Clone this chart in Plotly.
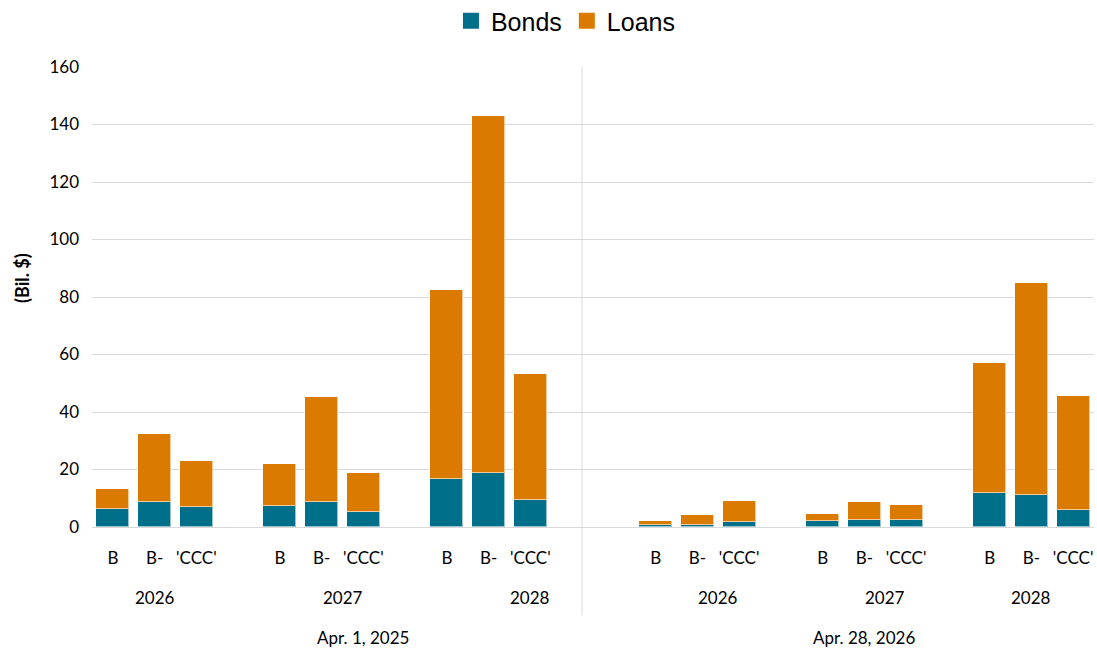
import plotly.graph_objects as go

# Rating buckets for each maturity year, under two snapshot dates
snapshots = ["Apr. 1, 2025", "Apr. 28, 2026"]
years = ["2026", "2027", "2028"]
ratings = ["B", "B-", "'CCC'"]

# Slot positions of the bars (blank slots separate the groups)
slots = [0, 1, 2, 4, 5, 6, 8, 9, 10,
         13, 14, 15, 17, 18, 19, 21, 22, 23]

bonds = [6.4, 8.6, 7.1, 7.4, 8.8, 5.3, 16.6, 18.9, 9.3,
         0.6, 0.8, 1.9, 2.1, 2.3, 2.3, 11.7, 11.0, 5.8]
totals = [13.1, 32.3, 22.9, 21.9, 45.2, 18.9, 82.4, 143.0, 53.1,
          2.1, 4.1, 9.0, 4.5, 8.6, 7.6, 57.1, 84.8, 45.5]
loans = [round(t - b, 1) for t, b in zip(totals, bonds)]

# Centres of the year and snapshot labels, in slot units
year_centres = [1.0, 5.5, 10.0, 14.5, 18.5, 22.0]
snapshot_centres = [6.0, 18.0]

BOND_COLOR = "#006F8A"
LOAN_COLOR = "#DB7A00"
TICK_FONT = "Lato, Open Sans, sans-serif"
LEGEND_FONT = "Liberation Sans, Arial, sans-serif"
EDGE = dict(color="rgba(255,255,255,0.6)", width=1)

fig = go.Figure()
fig.add_bar(x=slots, y=bonds, name="Bonds", marker_color=BOND_COLOR,
            marker_line=EDGE, width=0.79, showlegend=False)
fig.add_bar(x=slots, y=loans, name="Loans", marker_color=LOAN_COLOR,
            marker_line=EDGE, width=0.79, showlegend=False)

# Legend entries with larger square swatches
for name, color in [("Bonds", BOND_COLOR), ("Loans", LOAN_COLOR)]:
    fig.add_scatter(x=[None], y=[None], mode="markers", name=name,
                    marker=dict(symbol="square", size=16, color=color))

annotations = []
for i, yr in enumerate(years * 2):
    annotations.append(dict(x=year_centres[i], y=0, xref="x", yref="paper",
                            text=yr, showarrow=False, yshift=-70, yanchor="middle",
                            font=dict(family=TICK_FONT, size=17, color="#000")))
for i, snap in enumerate(snapshots):
    annotations.append(dict(x=snapshot_centres[i], y=0, xref="x", yref="paper",
                            text=snap, showarrow=False, yshift=-110, yanchor="middle",
                            font=dict(family=TICK_FONT, size=17, color="#000")))
annotations.append(dict(x=-0.07, y=0.541, xref="paper", yref="paper",
                        text="<b>(Bil. $)</b>", showarrow=False, textangle=-90,
                        xanchor="center", yanchor="middle",
                        font=dict(family=TICK_FONT, size=18, color="#000")))

fig.update_layout(
    barmode="stack",
    width=1097, height=650,
    margin=dict(l=92, r=3, t=67, b=123, autoexpand=False),
    plot_bgcolor="white", paper_bgcolor="white",
    font=dict(family=TICK_FONT, color="#000"),
    legend=dict(orientation="h", x=0.473, xanchor="center", y=1.1, yanchor="middle",
                font=dict(family=LEGEND_FONT, size=25, color="#000"),
                itemwidth=30, traceorder="normal"),
    bargap=0,
    annotations=annotations,
    shapes=[dict(type="line", xref="paper", yref="paper",
                 x0=0.489, x1=0.489, y0=1.0, y1=-0.192,
                 line=dict(color="#D9D9D9", width=1))],
)
fig.update_xaxes(range=[-0.5, 23.5], tickmode="array",
                 tickvals=slots, ticktext=ratings * 6,
                 tickfont=dict(family=TICK_FONT, size=17, color="#000"),
                 ticks="", showgrid=False, showline=True, linecolor="#D9D9D9",
                 ticklabelstandoff=16, zeroline=False)
fig.update_yaxes(range=[0, 160], dtick=20, showgrid=True, gridcolor="#D9D9D9",
                 zeroline=False, tickfont=dict(family=TICK_FONT, size=17, color="#000"),
                 ticklabelstandoff=12)

fig.write_html("out.html")
